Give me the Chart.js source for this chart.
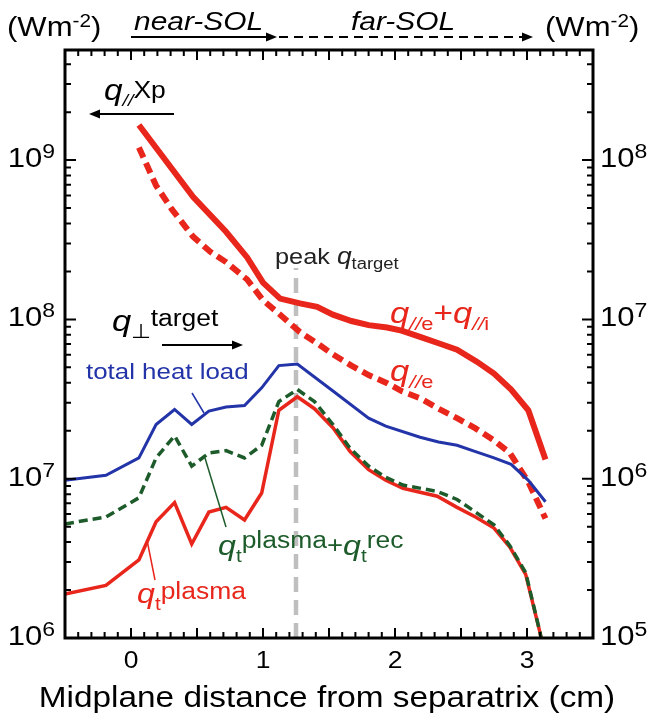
<!DOCTYPE html>
<html>
<head>
<meta charset="utf-8">
<script src="https://cdn.jsdelivr.net/npm/chart.js@4.4.1/dist/chart.umd.min.js"></script>
<style>
  html, body { margin: 0; padding: 0; background: #fff; }
  canvas { display: block; }
</style>
</head>
<body>
<canvas id="chart" width="652" height="723"></canvas>
<script>
// parallel heat flux at X-point (left axis, W m^-2)
const xPar = [0.06, 0.47, 0.72, 0.88, 1.00, 1.13, 1.28, 1.41, 1.53, 1.67, 1.80, 1.94, 2.05, 2.19, 2.33, 2.47, 2.62, 2.75, 2.88, 3.01, 3.14];
const qParEI = [1.66e9, 5.89e8, 3.55e8, 2.45e8, 1.70e8, 1.35e8, 1.26e8, 1.20e8, 1.07e8, 9.77e7, 9.2e7, 8.9e7, 8.5e7, 7.76e7, 7.08e7, 6.46e7, 5.43e7, 4.57e7, 3.63e7, 2.69e7, 1.32e7];
const xParE = [0.06, 0.19, 0.31, 0.47, 0.60, 0.72, 0.88, 1.00, 1.13, 1.28, 1.41, 1.53, 1.67, 1.80, 1.94, 2.05, 2.19, 2.33, 2.47, 2.61, 2.75, 2.87, 3.01, 3.14];
const qParE = [1.20e9, 6.92e8, 4.90e8, 3.31e8, 2.66e8, 2.29e8, 1.78e8, 1.32e8, 1.07e8, 8.32e7, 7.08e7, 6.03e7, 5.13e7, 4.47e7, 3.98e7, 3.55e7, 3.20e7, 2.75e7, 2.40e7, 2.07e7, 1.74e7, 1.45e7, 9.55e6, 5.62e6];

// target heat flux (right axis, W m^-2)
const xTot = [-0.5, -0.19, 0.06, 0.19, 0.33, 0.46, 0.59, 0.72, 0.86, 0.99, 1.12, 1.26, 1.53, 1.80, 1.93, 2.19, 2.33, 2.47, 2.61, 2.75, 2.88, 3.01, 3.14];
const qTotal = [9.77e5, 1.05e6, 1.35e6, 2.19e6, 2.72e6, 2.19e6, 2.66e6, 2.82e6, 2.88e6, 3.72e6, 5.13e6, 5.25e6, 3.55e6, 2.40e6, 2.14e6, 1.82e6, 1.70e6, 1.62e6, 1.48e6, 1.35e6, 1.23e6, 9.77e5, 7.16e5];
const xTgt = [-0.5, -0.19, 0.06, 0.19, 0.33, 0.46, 0.59, 0.72, 0.86, 0.99, 1.12, 1.26, 1.39, 1.53, 1.66, 1.80, 1.93, 2.06, 2.32, 2.47, 2.61, 2.75, 2.87, 2.99, 3.10, 3.13];
const qPlasmaRec = [5.20e5, 5.75e5, 7.59e5, 1.35e6, 1.86e6, 1.20e6, 1.45e6, 1.50e6, 1.35e6, 1.62e6, 3.05e6, 3.63e6, 3.05e6, 2.19e6, 1.55e6, 1.20e6, 1.02e6, 9.12e5, 8.32e5, 7.41e5, 6.17e5, 5.13e5, 3.80e5, 2.57e5, 1.07e5, 8.0e4];
const qPlasma = [1.89e5, 2.14e5, 3.09e5, 5.37e5, 7.08e5, 3.89e5, 6.17e5, 6.61e5, 5.50e5, 8.13e5, 2.69e6, 3.27e6, 2.75e6, 2.09e6, 1.48e6, 1.14e6, 9.77e5, 8.71e5, 7.76e5, 6.61e5, 5.75e5, 4.90e5, 3.72e5, 2.51e5, 1.07e5, 8.0e4];

// peak target position
const peakX = 1.25;
const peakLineY = [1e6, 2.1e8];

// axis ticks
const xTickLabels = [0, 1, 2, 3];
const leftDecades = [6, 7, 8, 9];
const rightDecades = [5, 6, 7, 8];

const RED = '#e8261b', BLUE = '#2234a8', GREEN = '#1d5c2a', GREY = '#bfbfbf';
const FONT = '"Liberation Sans", Arial, Helvetica, sans-serif';
const SX = 1.15; // text is a bit wider than the font

function pts(xs, ys) { return xs.map((x, i) => ({ x: x, y: ys[i] })); }
function font(s, it) { return (it ? 'italic ' : '') + s + 'px ' + FONT; }

function rich(ctx, x, y, parts, color, align) {
  let w = 0;
  parts.forEach(p => { ctx.font = font(p.s, p.i); p.w = ctx.measureText(p.t).width * SX; w += p.w; });
  if (align === 'right') x -= w;
  else if (align === 'center') x -= w / 2;
  parts.forEach(p => {
    ctx.save();
    ctx.font = font(p.s, p.i);
    ctx.fillStyle = p.c || color;
    ctx.translate(x, y + (p.dy || 0));
    ctx.scale(SX, 1);
    ctx.fillText(p.t, 0, 0);
    ctx.restore();
    x += p.w;
  });
}

function arrow(ctx, x1, y1, x2, y2, dash) {
  const dir = Math.sign(x2 - x1);
  ctx.save();
  ctx.strokeStyle = '#000'; ctx.fillStyle = '#000'; ctx.lineWidth = 2;
  ctx.setLineDash(dash || []);
  ctx.beginPath(); ctx.moveTo(x1, y1); ctx.lineTo(x2 - dir * 8, y2); ctx.stroke();
  ctx.setLineDash([]);
  ctx.beginPath(); ctx.moveTo(x2, y2); ctx.lineTo(x2 - dir * 11, y2 - 4.5); ctx.lineTo(x2 - dir * 11, y2 + 4.5); ctx.closePath(); ctx.fill();
  ctx.restore();
}

function seg(ctx, x1, y1, x2, y2, c) {
  ctx.save(); ctx.strokeStyle = c; ctx.lineWidth = 1.5;
  ctx.beginPath(); ctx.moveTo(x1, y1); ctx.lineTo(x2, y2); ctx.stroke(); ctx.restore();
}

const framePlugin = {
  id: 'frame',
  afterDatasetsDraw(chart) {
    const ctx = chart.ctx, a = chart.chartArea;
    const sx = chart.scales.x, yl = chart.scales.yL, yr = chart.scales.yR;
    ctx.save();
    ctx.strokeStyle = '#000';
    ctx.lineWidth = 2;
    ctx.beginPath();
    for (let i = -5; i <= 35; i++) {
      const px = sx.getPixelForValue(i / 10), len = i % 5 === 0 ? 10 : 6;
      ctx.moveTo(px, a.bottom); ctx.lineTo(px, a.bottom - len);
      ctx.moveTo(px, a.top); ctx.lineTo(px, a.top + len);
    }
    leftDecades.forEach(d => {
      for (let k = 1; k <= 9; k++) {
        const v = k * Math.pow(10, d);
        if (v > yl.max) break;
        const py = yl.getPixelForValue(v), len = k === 1 ? 11 : 6;
        ctx.moveTo(a.left, py); ctx.lineTo(a.left + len, py);
      }
    });
    rightDecades.forEach(d => {
      for (let k = 1; k <= 9; k++) {
        const v = k * Math.pow(10, d);
        if (v > yr.max) break;
        const py = yr.getPixelForValue(v), len = k === 1 ? 11 : 6;
        ctx.moveTo(a.right, py); ctx.lineTo(a.right - len, py);
      }
    });
    ctx.stroke();
    ctx.lineWidth = 3;
    ctx.strokeRect(a.left, a.top, a.right - a.left, a.bottom - a.top);
    ctx.restore();
  },
  afterDraw(chart) {
    const ctx = chart.ctx;
    const sx = chart.scales.x, yl = chart.scales.yL, yr = chart.scales.yR;
    ctx.save();
    ctx.textBaseline = 'alphabetic';
    // tick labels
    leftDecades.forEach(d => {
      const py = yl.getPixelForValue(Math.pow(10, d));
      rich(ctx, 55, py + 7, [{ t: '10', s: 27 }, { t: String(d), s: 20, dy: -9 }], '#000', 'right');
    });
    rightDecades.forEach(d => {
      const py = yr.getPixelForValue(Math.pow(10, d));
      rich(ctx, 600, py + 7, [{ t: '10', s: 27 }, { t: String(d), s: 20, dy: -9 }], '#000', 'left');
    });
    xTickLabels.forEach(v => {
      rich(ctx, sx.getPixelForValue(v), 668, [{ t: String(v), s: 23 }], '#000', 'center');
    });
    rich(ctx, 327, 707, [{ t: 'Midplane distance from separatrix (cm)', s: 29 }], '#000', 'center');

    // units and SOL arrows
    const unit = [{ t: '(Wm', s: 27 }, { t: '-2', s: 18, dy: -9 }, { t: ')', s: 27 }];
    rich(ctx, 7, 36, unit, '#000');
    rich(ctx, 545, 36, unit, '#000');
    rich(ctx, 134, 30, [{ t: 'near-SOL', s: 26, i: true }], '#000');
    rich(ctx, 351, 30, [{ t: 'far-SOL', s: 26, i: true }], '#000');
    arrow(ctx, 131, 37, 277, 37);
    arrow(ctx, 279, 37, 533, 37, [9, 6]);

    // q// Xp
    rich(ctx, 104, 100, [{ t: 'q', s: 29, i: true }, { t: '//', s: 17, i: true, dy: 6 }, { t: 'Xp', s: 23, dy: -2 }], '#000');
    arrow(ctx, 174, 114, 89, 114);

    // q_perp target
    rich(ctx, 112, 331, [{ t: 'q', s: 30, i: true }, { t: '\u22A5', s: 20, dy: 7 }, { t: 'target', s: 23, dy: -5 }], '#000');
    arrow(ctx, 162, 345, 243, 345);

    // peak label
    rich(ctx, 275, 264, [{ t: 'peak ', s: 22 }, { t: 'q', s: 23, i: true }, { t: 'target', s: 16, dy: 5 }], '#222');

    // parallel flux labels
    rich(ctx, 390, 323, [{ t: 'q', s: 30, i: true }, { t: '//', s: 19, i: true, dy: 7 }, { t: 'e', s: 19, dy: 7 }, { t: '+', s: 29 },
      { t: 'q', s: 30, i: true }, { t: '//', s: 19, i: true, dy: 7 }, { t: 'i', s: 19, dy: 7 }], RED);
    rich(ctx, 390, 381, [{ t: 'q', s: 30, i: true }, { t: '//', s: 19, i: true, dy: 7 }, { t: 'e', s: 19, dy: 7 }], RED);

    // target flux labels
    rich(ctx, 86, 379, [{ t: 'total heat load', s: 22.5 }], BLUE);
    seg(ctx, 192, 393, 204, 413, BLUE);
    rich(ctx, 218, 555, [{ t: 'q', s: 28, i: true }, { t: 't', s: 18, dy: 7 }, { t: 'plasma', s: 23, dy: -7 }, { t: '+', s: 24, dy: -2 },
      { t: 'q', s: 28, i: true }, { t: 't', s: 18, dy: 7 }, { t: 'rec', s: 23, dy: -7 }], GREEN);
    seg(ctx, 205, 458, 226, 527, GREEN);
    rich(ctx, 137, 603, [{ t: 'q', s: 28, i: true }, { t: 't', s: 18, dy: 7 }, { t: 'plasma', s: 23, dy: -4 }], RED);
    seg(ctx, 147, 540, 155, 580, RED);
    ctx.restore();
  }
};

new Chart(document.getElementById('chart'), {
  type: 'line',
  data: {
    datasets: [
      { data: pts(xTgt, qPlasmaRec), yAxisID: 'yR', borderColor: GREEN, borderWidth: 3.5, borderDash: [9, 5], order: 1 },
      { data: pts(xTgt, qPlasma), yAxisID: 'yR', borderColor: RED, borderWidth: 3.5, order: 2 },
      { data: pts(xTot, qTotal), yAxisID: 'yR', borderColor: BLUE, borderWidth: 3, order: 3 },
      { data: pts(xParE, qParE), yAxisID: 'yL', borderColor: RED, borderWidth: 6, borderDash: [11, 6], order: 4 },
      { data: pts(xPar, qParEI), yAxisID: 'yL', borderColor: RED, borderWidth: 6, order: 5 },
      { data: pts([peakX, peakX], peakLineY), yAxisID: 'yL', borderColor: GREY, borderWidth: 4.5, borderDash: [15, 8], order: 6 }
    ]
  },
  options: {
    responsive: false,
    animation: false,
    layout: { padding: { left: 65, right: 59, top: 50, bottom: 85 } },
    elements: { point: { radius: 0 }, line: { tension: 0, fill: false } },
    datasets: { line: { clip: 0 } },
    plugins: { legend: { display: false }, tooltip: { enabled: false } },
    scales: {
      x: { type: 'linear', min: -0.5, max: 3.5, display: false },
      yL: { type: 'logarithmic', position: 'left', min: 1e6, max: 4.91e9, display: false },
      yR: { type: 'logarithmic', position: 'right', min: 1e5, max: 4.91e8, display: false }
    }
  },
  plugins: [framePlugin]
});
</script>
</body>
</html>
